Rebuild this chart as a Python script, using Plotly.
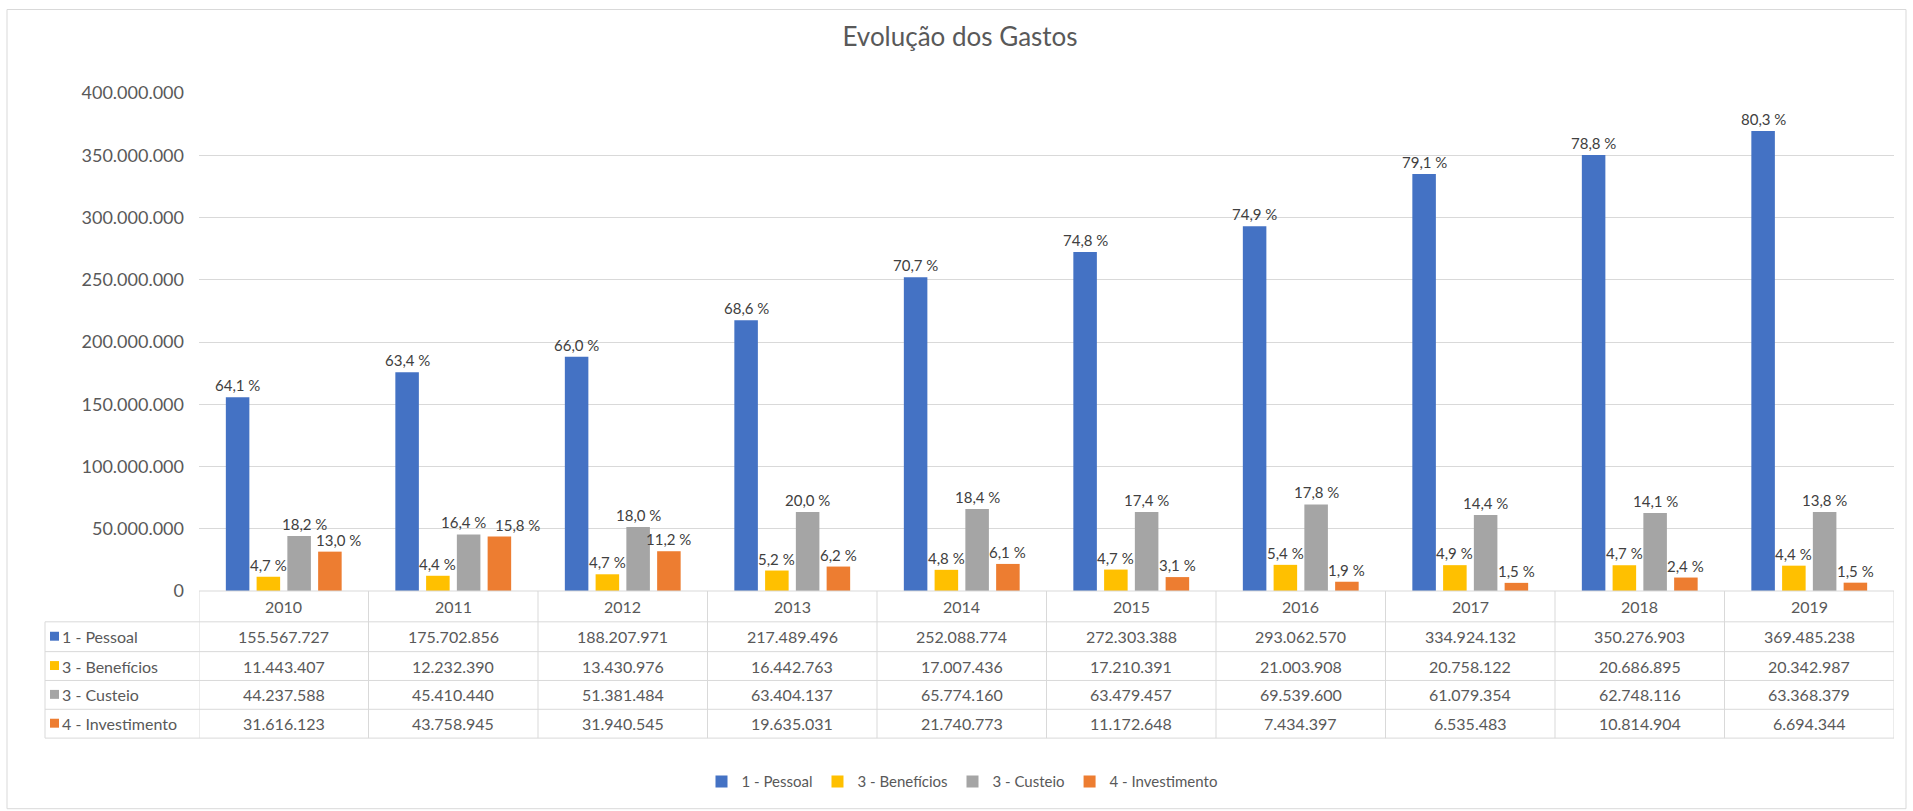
import plotly.graph_objects as go

# ---------------- data ----------------
years = ["2010", "2011", "2012", "2013", "2014", "2015", "2016", "2017", "2018", "2019"]
series_names = ["1 - Pessoal", "3 - Benefícios", "3 - Custeio", "4 - Investimento"]
pessoal = [155567727, 175702856, 188207971, 217489496, 252088774, 272303388, 293062570, 334924132, 350276903, 369485238]
beneficios = [11443407, 12232390, 13430976, 16442763, 17007436, 17210391, 21003908, 20758122, 20686895, 20342987]
custeio = [44237588, 45410440, 51381484, 63404137, 65774160, 63479457, 69539600, 61079354, 62748116, 63368379]
investimento = [31616123, 43758945, 31940545, 19635031, 21740773, 11172648, 7434397, 6535483, 10814904, 6694344]
pct_pessoal = ["64,1 %", "63,4 %", "66,0 %", "68,6 %", "70,7 %", "74,8 %", "74,9 %", "79,1 %", "78,8 %", "80,3 %"]
pct_beneficios = ["4,7 %", "4,4 %", "4,7 %", "5,2 %", "4,8 %", "4,7 %", "5,4 %", "4,9 %", "4,7 %", "4,4 %"]
pct_custeio = ["18,2 %", "16,4 %", "18,0 %", "20,0 %", "18,4 %", "17,4 %", "17,8 %", "14,4 %", "14,1 %", "13,8 %"]
pct_investimento = ["13,0 %", "15,8 %", "11,2 %", "6,2 %", "6,1 %", "3,1 %", "1,9 %", "1,5 %", "2,4 %", "1,5 %"]
y_ticks = [0, 50000000, 100000000, 150000000, 200000000, 250000000, 300000000, 350000000, 400000000]

series_values = [pessoal, beneficios, custeio, investimento]
series_pcts = [pct_pessoal, pct_beneficios, pct_custeio, pct_investimento]
colors = ["#4472C4", "#FFC000", "#A5A5A5", "#ED7D31"]

# ---------------- layout geometry (pixels) ----------------
W, H = 1913, 811
L, R = 199, 1894          # plot area left/right
T, B = 93, 594            # plot area top/bottom (400M / 0)
PW, PH = R - L, B - T
FONT = "Lato, 'Open Sans', sans-serif"
GRID = "#D9D9D9"
TXT = "#595959"
BARGAP = 0.274
BARGROUPGAP = 0.235


def px_x(p):
    return (p - L) / PW


def px_y(p):
    return (B - p) / PH


def fmt(v):
    return f"{v:,}".replace(",", ".")


fig = go.Figure()
for name, vals, col in zip(series_names, series_values, colors):
    fig.add_trace(go.Bar(
        name=name, x=years, y=vals, marker=dict(color=col, line=dict(width=0)),
        hoverinfo="x+y+name",
    ))

shapes = []
annotations = []

# data labels (above each bar), small nudges where Excel moved colliding labels
slot = (1 - BARGAP) / len(series_names)
nudge = {(0, 2): 5, (0, 3): 9, (1, 2): -5, (1, 3): 18}
for k, pcts in enumerate(series_pcts):
    vals = series_values[k]
    for i, (txt, v) in enumerate(zip(pcts, vals)):
        annotations.append(dict(
            x=i + (k - (len(series_names) - 1) / 2) * slot, y=v, xref="x", yref="y",
            text=txt, showarrow=False, xanchor="center", yanchor="bottom",
            yshift=1, xshift=nudge.get((i, k), 0),
            font=dict(family=FONT, size=15, color="#404040")))

# table horizontal lines
row_lines = [625, 655, 684, 713, 742]
shapes.append(dict(type="line", xref="paper", yref="paper", x0=0, x1=1,
                   y0=px_y(594), y1=px_y(594), line=dict(color=GRID, width=1)))
for yl in row_lines:
    shapes.append(dict(type="line", xref="paper", yref="paper", x0=px_x(45), x1=1,
                       y0=px_y(yl), y1=px_y(yl), line=dict(color=GRID, width=1)))
# vertical lines
shapes.append(dict(type="line", xref="paper", yref="paper", x0=px_x(45), x1=px_x(45),
                   y0=px_y(625), y1=px_y(742), line=dict(color=GRID, width=1)))
for i in range(len(years) + 1):
    shapes.append(dict(type="line", xref="x", yref="paper", x0=i - 0.5, x1=i - 0.5,
                       y0=px_y(594), y1=px_y(742), line=dict(color=GRID, width=1)))

# header (years)
for i, yr in enumerate(years):
    annotations.append(dict(x=i, y=px_y(610), xref="x", yref="paper", text=yr,
                            showarrow=False, font=dict(family=FONT, size=16, color=TXT),
                            xanchor="center", yanchor="middle"))

row_centers = [640, 669.5, 698.5, 727.5]
for r, (name, vals, col) in enumerate(zip(series_names, series_values, colors)):
    yc = row_centers[r]
    shapes.append(dict(type="rect", xref="paper", yref="paper",
                       x0=px_x(50), x1=px_x(59), y0=px_y(yc - 5), y1=px_y(yc + 4),
                       fillcolor=col, line=dict(width=0)))
    annotations.append(dict(x=px_x(60), y=px_y(yc), xref="paper", yref="paper", text=name,
                            showarrow=False, font=dict(family=FONT, size=16, color=TXT),
                            xanchor="left", yanchor="middle"))
    for i, v in enumerate(vals):
        annotations.append(dict(x=i, y=px_y(yc), xref="x", yref="paper", text=fmt(v),
                                showarrow=False, font=dict(family=FONT, size=16, color=TXT),
                                xanchor="center", yanchor="middle"))

# chart border
shapes.append(dict(type="rect", xref="paper", yref="paper",
                   x0=px_x(7), x1=px_x(1906), y0=px_y(813), y1=px_y(9),
                   line=dict(color="#D9D9D9", width=1), fillcolor="rgba(0,0,0,0)", layer="below"))

fig.update_layout(
    width=W, height=H,
    margin=dict(l=L, r=W - R, t=T, b=H - B, pad=0),
    paper_bgcolor="white", plot_bgcolor="white",
    separators=",.",
    title=dict(text="Evolução dos Gastos", x=960 / W, xanchor="center",
               y=1 - 37 / H, yanchor="middle",
               font=dict(family=FONT, size=26, color=TXT)),
    barmode="group", bargap=BARGAP, bargroupgap=BARGROUPGAP,
    xaxis=dict(type="category", range=[-0.5, 9.5], showticklabels=False, showgrid=False,
               showline=False, zeroline=False, ticks=""),
    yaxis=dict(range=[0, 400000000], tickvals=y_ticks, tickformat=",d",
               showgrid=True, gridcolor=GRID, gridwidth=1, zeroline=False, showline=False,
               ticks="", ticklabelstandoff=14,
               tickfont=dict(family=FONT, size=18, color=TXT)),
    legend=dict(orientation="h", x=px_x(962), xanchor="center", y=px_y(786), yanchor="middle",
                font=dict(family=FONT, size=15, color=TXT), itemwidth=30,
                bgcolor="rgba(0,0,0,0)"),
    shapes=shapes, annotations=annotations,
    font=dict(family=FONT, color=TXT),
)

fig.write_html("out.html")
